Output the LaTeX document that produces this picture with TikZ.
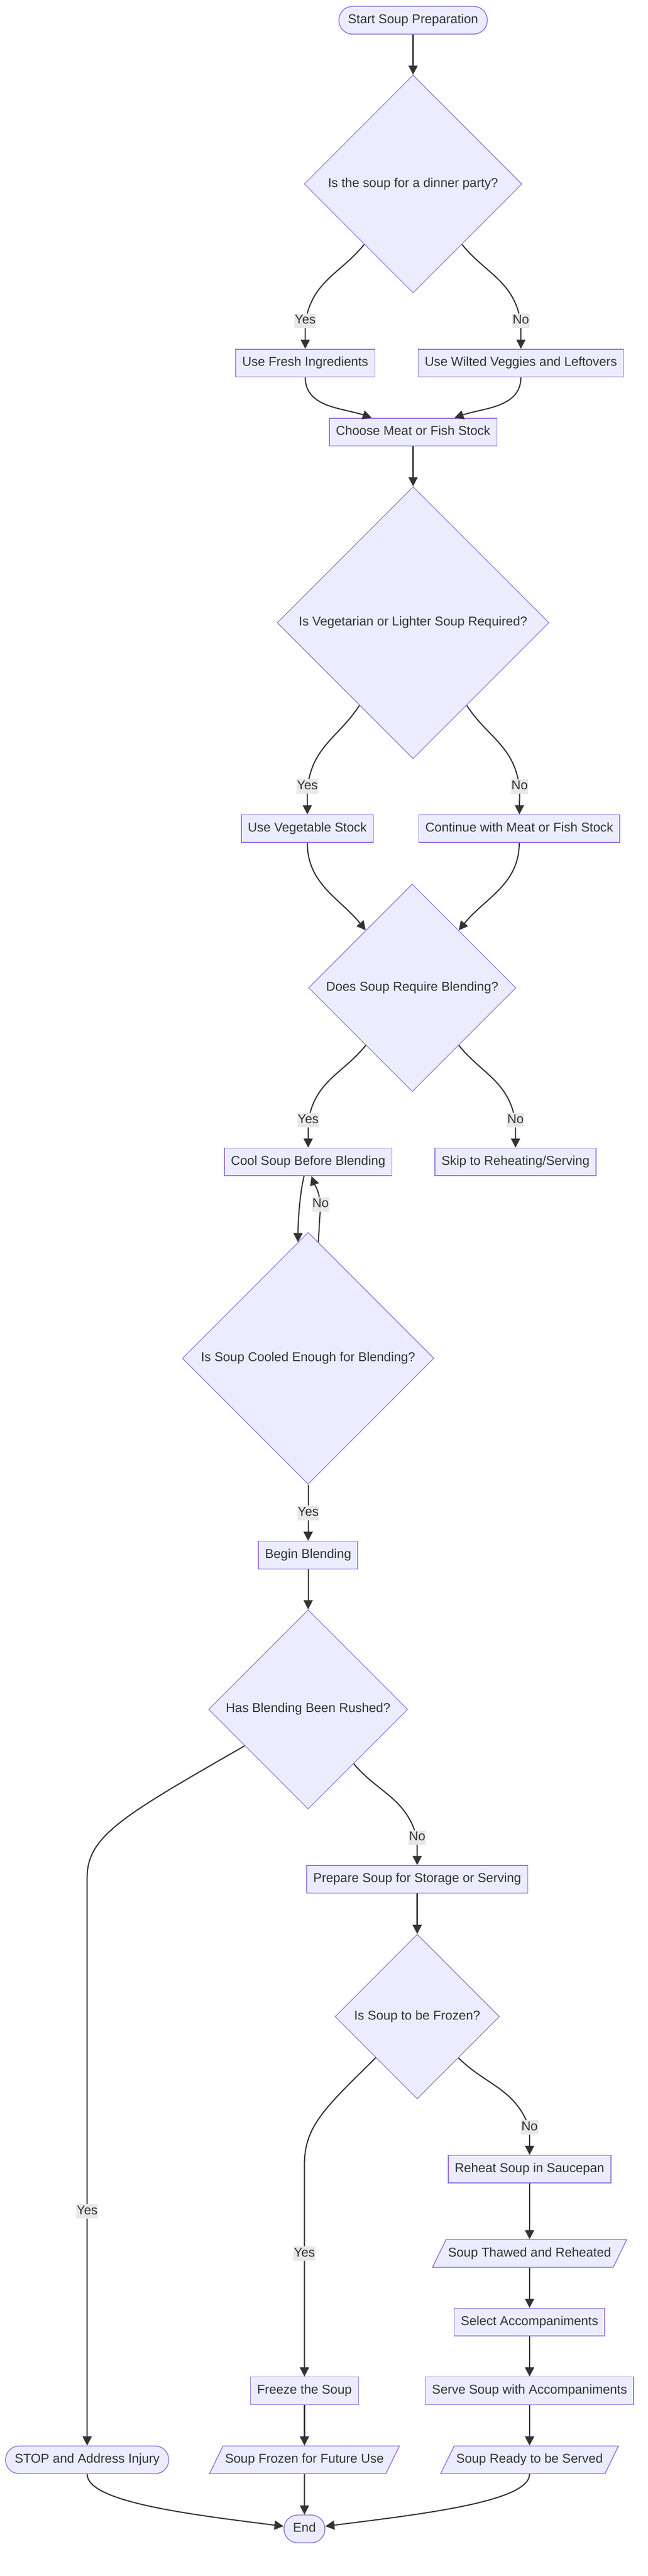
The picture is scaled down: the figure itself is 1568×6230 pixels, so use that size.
\documentclass[tikz,border=0pt]{standalone}
\usepackage{fontspec}
\setmainfont{Liberation Sans}
\usetikzlibrary{shapes.geometric, arrows.meta}
\definecolor{nodefill}{HTML}{ECECFF}
\definecolor{nodeline}{HTML}{9370DB}
\definecolor{edgeline}{HTML}{333333}
\definecolor{labelfill}{HTML}{E8E8E8}
\tikzstyle{base}=[draw=nodeline, fill=nodefill, line width=2pt, text=edgeline, font=\fontsize{31}{37}\selectfont, text height=22pt, text depth=7pt, inner ysep=19pt]
\tikzstyle{proc}=[base, rectangle, inner xsep=16pt]
\tikzstyle{term}=[base, rectangle, rounded corners=33pt, inner xsep=22pt]
\tikzstyle{cond}=[base, diamond, aspect=1, inner sep=0pt, line width=1.6pt]
\tikzstyle{inout}=[base, trapezium, trapezium left angle=64, trapezium right angle=116, inner xsep=5pt]
\tikzstyle{elabel}=[fill=labelfill, text=edgeline, font=\fontsize{31}{37}\selectfont, text height=22pt, text depth=7pt, inner xsep=1pt, inner ysep=3pt]
\tikzstyle{flow}=[draw=edgeline, line width=2.8pt, -{Triangle[length=22pt, width=22pt]}]
\newcommand{\proc}{\node[proc]}
\newcommand{\term}{\node[term]}
\newcommand{\cond}{\node[cond]}
\newcommand{\inout}{\node[inout]}
\newcommand{\elabel}{\node[elabel]}

\begin{document}
\begin{tikzpicture}[x=1pt, y=1pt]
\useasboundingbox (0,0) rectangle (1568,-6230);
\fill[white] (0,0) rectangle (1568,-6230);

% top part
\term (start) at (1000,-49) {Start Soup Preparation};
\cond[minimum size=527pt] (d1) at (1000,-445) {Is the soup for a dinner party?};
\proc (fresh) at (739,-878) {Use Fresh Ingredients};
\proc (wilted) at (1261,-878) {Use Wilted Veggies and Leftovers};
\proc (choose) at (1000,-1045) {Choose Meat or Fish Stock};
\cond[minimum size=658pt] (d2) at (1000,-1506) {Is Vegetarian or Lighter Soup Required?};
\proc (veg) at (744,-2004) {Use Vegetable Stock};
\proc (cont) at (1257,-2004) {Continue with Meat or Fish Stock};
\cond[minimum size=502pt] (d3) at (998,-2389) {Does Soup Require Blending?};
\proc (cool) at (746,-2810) {Cool Soup Before Blending};
\proc (skip) at (1248,-2810) {Skip to Reheating/Serving};
\cond[minimum size=609pt] (d4) at (746,-3285) {Is Soup Cooled Enough for Blending?};
\proc (begin) at (746,-3761) {Begin Blending};
\cond[minimum size=482pt] (d5) at (746,-4134) {Has Blending Been Rushed?};
\proc (prepare) at (1010,-4545) {Prepare Soup for Storage or Serving};
\cond[minimum size=398pt] (d6) at (1010,-4877) {Is Soup to be Frozen?};

% bottom part
\proc (reheat) at (1282,-5246) {Reheat Soup in Saucepan};
\inout (thawed) at (1282,-5450) {Soup Thawed and Reheated};
\proc (select) at (1282,-5616) {Select Accompaniments};
\proc (serve) at (1282,-5782) {Serve Soup with Accompaniments};
\proc (freeze) at (737,-5782) {Freeze the Soup};
\term (stop) at (211,-5949) {STOP and Address Injury};
\inout (frozen) at (737,-5949) {Soup Frozen for Future Use};
\inout (ready) at (1282,-5949) {Soup Ready to be Served};
\term (end) at (737,-6116) {End};

% edge labels
\elabel (yes1) at (739,-776) {Yes};
\elabel (no1) at (1261,-776) {No};
\elabel (yes2) at (744,-1902) {Yes};
\elabel (no2) at (1258,-1902) {No};
\elabel (yes3) at (746,-2709) {Yes};
\elabel (no3) at (1248,-2709) {No};
\elabel (no4) at (776,-2913) {No};
\elabel (yes4) at (746,-3659) {Yes};
\elabel (no5) at (1010,-4444) {No};
\elabel (yes5) at (211,-5348) {Yes};
\elabel (yes6) at (737,-5450) {Yes};
\elabel (no6) at (1282,-5145) {No};
\coordinate (bendA) at (211,-4540);
\coordinate (bendB) at (737,-5235);

\draw[flow] (start) -- (d1);
\draw[flow] (d1) to[out=231,in=75] (yes1) -- (fresh);
\draw[flow] (d1) to[out=-51,in=105] (no1) -- (wilted);
\draw[flow] (fresh) to[out=-90,in=161] (choose);
\draw[flow] (wilted) to[out=-90,in=19] (choose);
\draw[flow] (choose) -- (d2);
\draw[flow] (d2) to[out=237,in=78] (yes2) -- (veg);
\draw[flow] (d2) to[out=-57,in=102] (no2) -- (cont);
\draw[flow] (veg) to[out=-90,in=129] (d3);
\draw[flow] (cont) to[out=-90,in=51] (d3);
\draw[flow] (d3) to[out=231,in=75] (yes3) -- (cool);
\draw[flow] (d3) to[out=-51,in=105] (no3) -- (skip);
\draw[flow] ([xshift=-10pt]cool.south) .. controls +(-12,-50) and +(0,40) .. (d4.95);
\draw[flow] (d4.85) -- (no4) to[out=100,in=-70] ([xshift=8pt]cool.south);
\draw[flow] (d4) -- (yes4) -- (begin);
\draw[flow] (begin) -- (d5);
\draw[flow] (d5) .. controls (300,-4390) and (211,-4440) .. (bendA) -- (yes5) -- (stop);
\draw[flow] (d5) to[out=-50,in=110] (no5) -- (prepare);
\draw[flow] (prepare) -- (d6);
\draw[flow] (d6) .. controls (790,-5095) and (737,-5140) .. (bendB) -- (yes6) -- (freeze);
\draw[flow] (d6) to[out=-45,in=115] (no6) -- (reheat);
\draw[flow] (reheat) -- (thawed);
\draw[flow] (thawed) -- (select);
\draw[flow] (select) -- (serve);
\draw[flow] (serve) -- (ready);
\draw[flow] (freeze) -- (frozen);
\draw[flow] (frozen) -- (end);
\draw[flow] (stop) .. controls (211,-6050) and (450,-6080) .. (end);
\draw[flow] (ready) .. controls (1282,-6050) and (1024,-6080) .. (end);
\end{tikzpicture}
\end{document}
